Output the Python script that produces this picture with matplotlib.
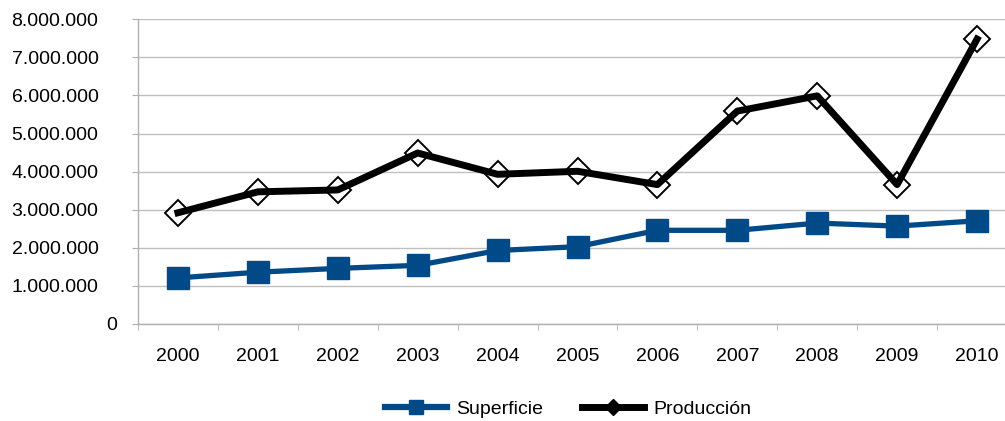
import matplotlib
matplotlib.use("Agg")
import matplotlib.pyplot as plt
from matplotlib.lines import Line2D
from matplotlib.ticker import FuncFormatter, MultipleLocator, FixedLocator

plt.rcParams["font.family"] = ["Liberation Sans", "DejaVu Sans"]

years = ["2000", "2001", "2002", "2003", "2004", "2005",
         "2006", "2007", "2008", "2009", "2010"]
superficie = [1210000, 1360000, 1460000, 1540000, 1930000, 2030000,
              2460000, 2460000, 2650000, 2570000, 2710000]
produccion = [2920000, 3470000, 3520000, 4490000, 3930000, 4010000,
              3660000, 5590000, 5990000, 3660000, 7480000]

BLUE = "#024a87"
x = list(range(len(years)))


def miles(v, pos):
    # zero is drawn separately, a bit closer to the axis as in the original
    if v == 0:
        return ""
    return f"{int(v):,}".replace(",", ".")


fig = plt.figure(figsize=(10.05, 4.21), dpi=100)
ax = fig.add_axes([138 / 1005, 1 - 324 / 421, 879 / 1005, 304.7 / 421])

ax.plot(x, superficie, color=BLUE, lw=3.8, marker="s", ms=16,
        mfc=BLUE, mec=BLUE, zorder=3)
ax.plot(x, produccion, ls="none", marker="D", ms=13, mfc="white",
        mec="black", mew=1.4, zorder=3)
ax.plot(x, produccion, color="black", lw=5, zorder=4)

ax.set_xlim(-0.5, len(years) - 0.5)
ax.set_ylim(0, 8000000)
ax.yaxis.set_major_locator(MultipleLocator(1000000))
ax.yaxis.set_major_formatter(FuncFormatter(miles))
ax.set_xticks(x)
ax.set_xticklabels(years)
ax.xaxis.set_minor_locator(FixedLocator([i - 0.5 for i in range(len(years) + 1)]))
ax.tick_params(axis="x", which="major", length=0, pad=17, labelsize=14)
ax.tick_params(axis="x", which="minor", length=4.5, color="#b0b0b0")
ax.tick_params(axis="y", length=4.5, color="#b0b0b0", labelsize=14, pad=24)
ax.annotate("0", xy=(0, 0), xycoords=("axes fraction", "data"),
            xytext=(-15, 0), textcoords="offset points",
            ha="right", va="center_baseline", fontsize=14)

ax.grid(axis="y", color="#c0c0c0", lw=1)
ax.set_axisbelow(True)
for s in ["top", "right"]:
    ax.spines[s].set_visible(False)
for s in ["left", "bottom"]:
    ax.spines[s].set_color("#b0b0b0")
    ax.spines[s].set_linewidth(1)

handles = [
    Line2D([], [], color=BLUE, lw=4.5, marker="s", ms=10, mfc=BLUE, mec=BLUE),
    Line2D([], [], color="black", lw=5, marker="D", ms=8, mfc="black", mec="black"),
]
fig.legend(handles, ["Superficie", "Producción"], loc="center",
           bbox_to_anchor=(568 / 1005, 1 - 409 / 421), ncol=2, frameon=False,
           fontsize=14, handlelength=3.2, columnspacing=2.0, handletextpad=0.45)

fig.savefig("out.png", dpi=100)
